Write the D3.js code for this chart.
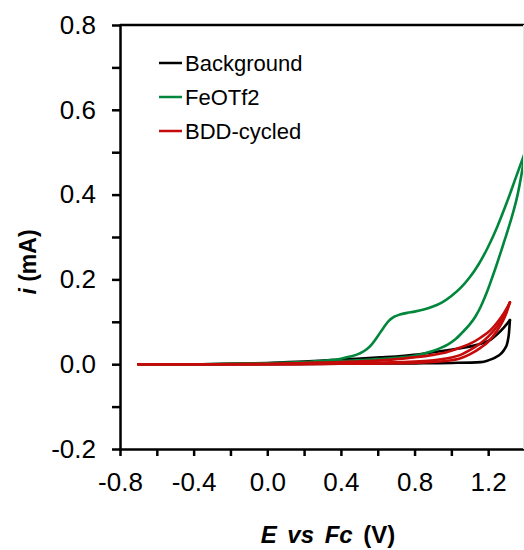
<!DOCTYPE html>
<html>
<head>
<meta charset="utf-8">
<script src="https://cdn.jsdelivr.net/npm/d3@7"></script>
<style>
  html, body { margin: 0; padding: 0; background: #fff; }
  svg { display: block; font-family: "Liberation Sans", Arial, sans-serif; }
</style>
</head>
<body>
<svg id="chart" width="524" height="550"></svg>
<script>
// Cyclic voltammograms: current (mA) against potential vs ferrocene (V)

const seriesNames = ["Background", "FeOTf2", "BDD-cycled"];

// Background electrolyte
const bgFwdE = [-0.7, -0.4, 0.0, 0.4, 0.8, 1.0, 1.16, 1.2, 1.24, 1.27, 1.29, 1.305, 1.313, 1.318];
const bgFwdI = [0, 0, 0, 0.001, 0.002, 0.003, 0.005, 0.009, 0.016, 0.025, 0.036, 0.052, 0.074, 0.104];
const bgRevE = [1.318, 1.30, 1.286, 1.25, 1.214, 1.16, 1.105, 1.04, 0.978, 0.9, 0.796, 0.7, 0.615, 0.4, 0.2, 0.0, -0.2, -0.4, -0.7];
const bgRevI = [0.104, 0.094, 0.087, 0.071, 0.058, 0.048, 0.042, 0.037, 0.033, 0.028, 0.022, 0.018, 0.016, 0.011, 0.006, 0.003, 0.001, 0, 0];

// FeOTf2
const feFwdE = [-0.7, -0.4, -0.2, 0.0, 0.2, 0.3, 0.4, 0.45, 0.5, 0.54, 0.57, 0.6, 0.63, 0.66, 0.69, 0.72, 0.76, 0.8, 0.85, 0.9, 0.95, 1.0, 1.05, 1.1, 1.15, 1.2, 1.25, 1.3, 1.35, 1.4];
const feFwdI = [0, 0, 0.001, 0.002, 0.005, 0.008, 0.013, 0.018, 0.025, 0.035, 0.048, 0.066, 0.085, 0.102, 0.112, 0.117, 0.121, 0.124, 0.129, 0.136, 0.146, 0.161, 0.18, 0.205, 0.237, 0.277, 0.325, 0.38, 0.44, 0.50];
const feRevE = [1.4, 1.38, 1.36, 1.34, 1.32, 1.30, 1.28, 1.26, 1.24, 1.22, 1.20, 1.18, 1.16, 1.13, 1.10, 1.06, 1.02, 0.98, 0.94, 0.89, 0.8, 0.7, 0.6, 0.4, 0.2, 0.0, -0.2, -0.4, -0.7];
const feRevI = [0.50, 0.445, 0.40, 0.365, 0.335, 0.307, 0.28, 0.253, 0.227, 0.202, 0.178, 0.156, 0.136, 0.112, 0.094, 0.075, 0.058, 0.046, 0.038, 0.030, 0.020, 0.015, 0.012, 0.007, 0.004, 0.002, 0.001, 0, 0];

// BDD-cycled, two sweeps
const bddFwdE = [-0.7, -0.4, 0.0, 0.4, 0.8, 0.98, 1.05, 1.1, 1.16, 1.2, 1.25, 1.28, 1.30, 1.318];
const bddFwdI = [0, 0, 0, 0.001, 0.003, 0.008, 0.014, 0.023, 0.039, 0.053, 0.08, 0.102, 0.122, 0.146];
const bddFwd2I = [0, 0, 0, 0.002, 0.006, 0.014, 0.022, 0.033, 0.05, 0.065, 0.09, 0.11, 0.128, 0.146];
const bddRevE = [1.318, 1.30, 1.286, 1.25, 1.214, 1.16, 1.105, 1.04, 0.978, 0.9, 0.796, 0.7, 0.615, 0.4, 0.2, 0.0, -0.3, -0.7];
const bddRevI = [0.146, 0.131, 0.121, 0.099, 0.081, 0.063, 0.049, 0.038, 0.029, 0.022, 0.016, 0.012, 0.009, 0.005, 0.003, 0.001, 0, 0];

// Axis ticks
const xTickLabels = ["-0.8", "-0.4", "0.0", "0.4", "0.8", "1.2"];
const xMinorTicks = [-0.6, -0.2, 0.2, 0.6, 1.0];
const yTickLabels = ["-0.2", "0.0", "0.2", "0.4", "0.6", "0.8"];
const yMinorTicks = [-0.1, 0.1, 0.3, 0.5, 0.7];

const colors = { "Background": "#000000", "FeOTf2": "#00873c", "BDD-cycled": "#c50a0a" };

const sweeps = [
  { series: "Background", E: bgFwdE, I: bgFwdI },
  { series: "Background", E: bgRevE, I: bgRevI },
  { series: "FeOTf2", E: feFwdE, I: feFwdI },
  { series: "FeOTf2", E: feRevE, I: feRevI },
  { series: "BDD-cycled", E: bddFwdE, I: bddFwdI },
  { series: "BDD-cycled", E: bddFwdE, I: bddFwd2I },
  { series: "BDD-cycled", E: bddRevE, I: bddRevI }
];

const svg = d3.select("#chart");

const x = d3.scaleLinear().domain([-0.8, 1.4]).range([120, 525]);
const y = d3.scaleLinear().domain([-0.2, 0.8]).range([449, 25]);

const line = d3.line()
  .x(d => x(d[0]))
  .y(d => y(d[1]))
  .curve(d3.curveMonotoneX);

// Curves
const curves = svg.append("g").attr("fill", "none");
sweeps.forEach(s => {
  const pts = s.E.map((e, k) => [e, s.I[k]]).sort((a, b) => a[0] - b[0]);
  curves.append("path")
    .datum(pts)
    .attr("d", line)
    .attr("stroke", colors[s.series])
    .attr("stroke-width", 2.6)
    .attr("stroke-linejoin", "round")
    .attr("stroke-linecap", "round");
});

// Axes
const xTickVals = xTickLabels.map(Number);
const yTickVals = yTickLabels.map(Number);

const xAxis = d3.axisBottom(x)
  .tickValues(xTickVals.concat(xMinorTicks).sort((a, b) => a - b))
  .tickFormat(d => {
    const k = xTickVals.findIndex(v => Math.abs(v - d) < 1e-9);
    return k >= 0 ? xTickLabels[k] : "";
  })
  .tickSizeInner(7)
  .tickSizeOuter(0)
  .tickPadding(17);

const yAxis = d3.axisLeft(y)
  .tickValues(yTickVals.concat(yMinorTicks).sort((a, b) => a - b))
  .tickFormat(d => {
    const k = yTickVals.findIndex(v => Math.abs(v - d) < 1e-9);
    return k >= 0 ? yTickLabels[k] : "";
  })
  .tickSizeInner(8)
  .tickSizeOuter(0)
  .tickPadding(16);

function styleAxis(g) {
  g.select(".domain").attr("stroke", "#000").attr("stroke-width", 2.5).attr("stroke-linecap", "square");
  g.selectAll(".tick line").attr("stroke", "#000").attr("stroke-width", 2.5);
  g.selectAll(".tick text")
    .attr("fill", "#000")
    .style("font-family", '"Liberation Sans", Arial, sans-serif')
    .style("font-size", "26px");
}

svg.append("g").attr("transform", "translate(0,449)").call(xAxis).call(styleAxis);
svg.append("g").attr("transform", "translate(120,0)").call(yAxis).call(styleAxis);

// Top frame edge
svg.append("line")
  .attr("x1", x.range()[0]).attr("x2", x.range()[1])
  .attr("y1", y.range()[1]).attr("y2", y.range()[1])
  .attr("stroke", "#000").attr("stroke-width", 2.5);

// Faint right frame edge
svg.append("line")
  .attr("x1", 523.5).attr("x2", 523.5)
  .attr("y1", y.range()[1]).attr("y2", y.range()[0])
  .attr("stroke", "#e4e4e4").attr("stroke-width", 1);

// Axis titles
const xTitle = svg.append("text")
  .attr("x", 328).attr("y", 543)
  .attr("text-anchor", "middle")
  .attr("font-weight", "bold")
  .attr("font-size", 24)
  .attr("word-spacing", 4)
  .attr("fill", "#000");
xTitle.append("tspan").attr("font-style", "italic").text("E vs Fc");
xTitle.append("tspan").text(" (V)");

const yTitle = svg.append("text")
  .attr("transform", "translate(36,262) rotate(-90)")
  .attr("text-anchor", "middle")
  .attr("font-weight", "bold")
  .attr("font-size", 23)
  .attr("fill", "#000");
yTitle.append("tspan").attr("font-style", "italic").text("i");
yTitle.append("tspan").text(" (mA)");

// Legend
const legend = svg.append("g");
seriesNames.forEach((name, k) => {
  const ly = 63 + k * 34;
  legend.append("line")
    .attr("x1", 159).attr("x2", 182)
    .attr("y1", ly).attr("y2", ly)
    .attr("stroke", colors[name]).attr("stroke-width", 2.5);
  legend.append("text")
    .attr("x", 185).attr("y", ly + 8)
    .attr("font-size", 22)
    .attr("fill", "#000")
    .text(name);
});
</script>
</body>
</html>
